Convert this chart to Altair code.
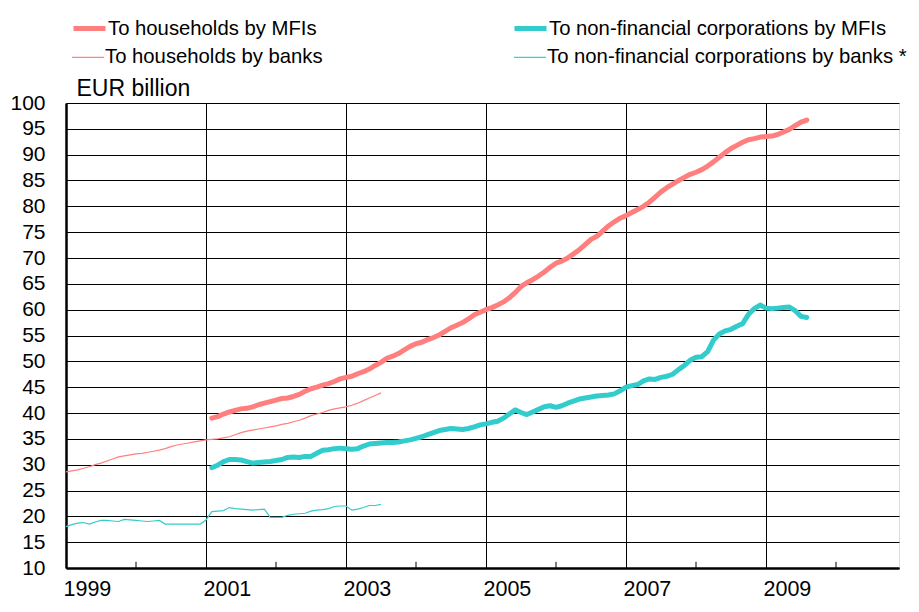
import altair as alt
import pandas as pd

FONT = "Liberation Sans"

# ---- data ----
years_odd = [1999, 2001, 2003, 2005, 2007, 2009]   # labelled years / vertical gridlines
years_even = [2000, 2002, 2004, 2006, 2008, 2010]  # minor tick marks
y_ticks = list(range(10, 101, 5))

mfi_names = ["To households by MFIs", "To non-financial corporations by MFIs"]
bank_names = ["To households by banks", "To non-financial corporations by banks *"]
pair_colors = ["#FF7F7F", "#33CCCC"]

# monthly, Jan 1999 - Jul 2003
banks_start = (1999, 1)
hh_banks = [28.6, 28.8, 29.0, 29.3, 29.6, 30.0, 30.3, 30.7, 31.1, 31.5,
            31.7, 31.9, 32.1, 32.2, 32.4, 32.6, 32.8, 33.1, 33.5, 33.8,
            34.0, 34.2, 34.4, 34.6, 34.8, 34.9, 35.0, 35.2, 35.4, 35.8,
            36.2, 36.5, 36.7, 36.9, 37.1, 37.3, 37.5, 37.8, 38.0, 38.3,
            38.6, 39.0, 39.5, 39.8, 40.1, 40.5, 40.8, 41.0, 41.2, 41.5,
            41.9, 42.4, 42.9, 43.4, 43.9]
nfc_banks = [18.0, 18.4, 18.7, 18.8, 18.5, 18.9, 19.2, 19.2, 19.1, 19.0,
             19.4, 19.3, 19.2, 19.1, 19.0, 19.1, 19.2, 18.5, 18.5, 18.5,
             18.5, 18.5, 18.5, 18.5, 19.3, 20.9, 21.0, 21.1, 21.7, 21.5,
             21.4, 21.3, 21.2, 21.3, 21.4, 19.8, 19.8, 19.8, 20.2, 20.4,
             20.5, 20.6, 21.0, 21.2, 21.3, 21.5, 21.9, 22.0, 22.0, 21.2,
             21.4, 21.7, 22.1, 22.1, 22.3]

# monthly, Feb 2001 - Aug 2009
mfi_start = (2001, 2)
hh_mfi = [39.0, 39.3, 39.8, 40.2, 40.5, 40.8, 40.9, 41.2, 41.6, 41.9,
          42.2, 42.5, 42.8, 42.9, 43.2, 43.6, 44.2, 44.7, 45.0, 45.4,
          45.7, 46.1, 46.6, 46.9, 47.1, 47.6, 48.0, 48.5, 49.2, 49.8,
          50.6, 51.0, 51.5, 52.2, 52.9, 53.4, 53.7, 54.2, 54.6, 55.1,
          55.8, 56.5, 57.0, 57.5, 58.2, 59.0, 59.5, 60.0, 60.4, 60.9,
          61.5, 62.3, 63.3, 64.5, 65.2, 65.8, 66.5, 67.3, 68.2, 69.0,
          69.4, 70.0, 70.8, 71.6, 72.6, 73.6, 74.2, 75.2, 76.2, 77.0,
          77.7, 78.2, 78.8, 79.4, 80.0, 80.8, 81.8, 82.8, 83.6, 84.3,
          85.0, 85.6, 86.2, 86.6, 87.1, 87.8, 88.6, 89.5, 90.4, 91.2,
          91.8, 92.4, 92.9, 93.1, 93.4, 93.5, 93.6, 93.9, 94.4, 94.9,
          95.6, 96.3, 96.7]
nfc_mfi = [29.4, 29.9, 30.6, 31.0, 31.0, 30.9, 30.6, 30.3, 30.4, 30.5,
           30.6, 30.8, 31.0, 31.4, 31.5, 31.4, 31.6, 31.6, 32.2, 32.8,
           32.9, 33.1, 33.2, 33.1, 33.0, 33.1, 33.6, 34.0, 34.1, 34.2,
           34.3, 34.3, 34.4, 34.6, 34.8, 35.1, 35.4, 35.8, 36.2, 36.6,
           36.8, 37.0, 36.9, 36.8, 37.0, 37.3, 37.7, 37.9, 38.2, 38.4,
           39.0, 39.8, 40.6, 40.1, 39.7, 40.2, 40.7, 41.2, 41.4, 41.1,
           41.4, 41.9, 42.3, 42.7, 42.9, 43.1, 43.3, 43.4, 43.5, 43.7,
           44.3, 45.0, 45.3, 45.5, 46.2, 46.6, 46.5, 46.9, 47.1, 47.5,
           48.4, 49.2, 50.2, 50.8, 50.9, 51.9, 54.1, 55.3, 55.9, 56.2,
           56.8, 57.3, 59.1, 60.2, 60.9, 60.3, 60.2, 60.3, 60.4, 60.5,
           59.8, 58.7, 58.5]

# minor tick marks along the bottom axis (from 10 up to 11.2)
tick_lo = 10
tick_hi = 11.2


def monthly(name, start, vals):
    y0, m0 = start
    return [{"t": y0 + (m0 - 1 + i) / 12.0, "value": v, "series": name}
            for i, v in enumerate(vals)]


df_mfi = pd.DataFrame(monthly(mfi_names[0], mfi_start, hh_mfi)
                      + monthly(mfi_names[1], mfi_start, nfc_mfi))
df_banks = pd.DataFrame(monthly(bank_names[0], banks_start, hh_banks)
                        + monthly(bank_names[1], banks_start, nfc_banks))
df_ticks = pd.DataFrame({"t": years_even,
                         "value": [tick_lo] * len(years_even),
                         "hi": [tick_hi] * len(years_even)})

x_scale = alt.Scale(domain=[1999, 2010.9], nice=False, zero=False)
y_scale = alt.Scale(domain=[10, 100], nice=False, zero=False)

x_axis = alt.Axis(
    values=years_odd, format="d", labelAlign="left", labelOffset=-3,
    labelBaseline="top", labelFontSize=21.5, labelFont=FONT,
    labelColor="black", labelPadding=10, labelFlush=False, labelOverlap=False,
    grid=True, gridColor="black", gridWidth=1, gridOpacity=1,
    domainColor="black", domainWidth=2.5, ticks=False, tickSize=0,
    title=None)
y_axis = alt.Axis(
    values=y_ticks, labelFontSize=21, labelFont=FONT, labelColor="black",
    labelPadding=21, labelOverlap=False, grid=True, gridColor="black",
    gridWidth=1, gridOpacity=1, domainColor="black", domainWidth=2.5,
    ticks=False, tickSize=0, title="EUR billion", titleAngle=0,
    titleAlign="left", titleBaseline="alphabetic", titleX=10, titleY=-8,
    titleFontSize=23, titleFontWeight="normal", titleFont=FONT,
    titleColor="black")


def legend(y, pad, sw):
    return alt.Legend(
        orient="none", legendX=5, legendY=y, direction="horizontal",
        columns=2, columnPadding=pad, labelFontSize=20.3, labelFont=FONT,
        labelColor="black", symbolType="stroke", symbolSize=1024,
        symbolStrokeWidth=sw, labelOffset=0, title=None, padding=0,
        labelLimit=0)


X = alt.X("t:Q", scale=x_scale, axis=x_axis)
Y = alt.Y("value:Q", scale=y_scale, axis=y_axis)

minor = alt.Chart(df_ticks).mark_rule(color="black", strokeWidth=1).encode(
    x=X, y=Y, y2="hi:Q",
)

thin = alt.Chart(df_banks).mark_line(strokeWidth=1.2).encode(
    x=X, y=Y,
    color=alt.Color("series:N", scale=alt.Scale(domain=bank_names, range=pair_colors),
                    legend=legend(-63, 188, 1.2)),
)

thick = alt.Chart(df_mfi).mark_line(
    strokeWidth=5, strokeCap="round", strokeJoin="round"
).encode(
    x=X, y=Y,
    color=alt.Color("series:N", scale=alt.Scale(domain=mfi_names, range=pair_colors),
                    legend=legend(-93, 187, 5)),
)

chart = alt.layer(thick, thin, minor).resolve_scale(color="independent").properties(
    width=833, height=465,
    autosize=alt.AutoSizeParams(type="none"),
    padding={"left": 58, "top": 95, "right": 12, "bottom": 32},
).configure_view(stroke="#808080", strokeWidth=1.5).configure(background="white")

chart.save("out.html", embed_options={"renderer": "svg", "actions": False})
